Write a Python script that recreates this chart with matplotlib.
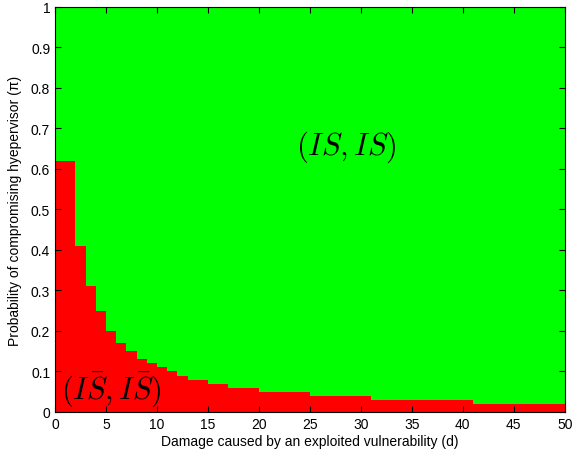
import numpy as np
import matplotlib
matplotlib.use("Agg")
import matplotlib.pyplot as plt
from matplotlib.colors import ListedColormap

# threshold pi* per damage column (d from 0 to 50, unit wide columns)
d_edges = list(range(0, 51))
threshold = [0.62, 0.62, 0.41, 0.31, 0.25, 0.20, 0.17, 0.15, 0.13, 0.12,
             0.11, 0.10, 0.09, 0.08, 0.08, 0.07, 0.07, 0.06, 0.06, 0.06,
             0.05, 0.05, 0.05, 0.05, 0.05, 0.04, 0.04, 0.04, 0.04, 0.04,
             0.04, 0.03, 0.03, 0.03, 0.03, 0.03, 0.03, 0.03, 0.03, 0.03,
             0.03, 0.02, 0.02, 0.02, 0.02, 0.02, 0.02, 0.02, 0.02, 0.02]
pi_edges = np.round(np.arange(0, 1.0001, 0.01), 2)

xticks = list(range(0, 51, 5))
yticks = [0, 0.1, 0.2, 0.3, 0.4, 0.5, 0.6, 0.7, 0.8, 0.9, 1]
yticklabels = ['0', '0.1', '0.2', '0.3', '0.4', '0.5', '0.6', '0.7', '0.8', '0.9', '1']

plt.rcParams['font.family'] = ['Liberation Sans', 'DejaVu Sans']
plt.rcParams['mathtext.fontset'] = 'cm'

# 1 = attack region (green), 0 = red region below threshold
pi_mid = (pi_edges[:-1] + pi_edges[1:]) / 2
Z = np.array([[0 if p < t else 1 for t in threshold] for p in pi_mid])

fig = plt.figure(figsize=(5.74, 4.56), dpi=100)
ax = fig.add_axes([0.0958, 0.0943, 0.8882, 0.8882])
ax.pcolormesh(d_edges, pi_edges, Z, cmap=ListedColormap(['#ff0000', '#00ff00']),
              vmin=0, vmax=1, shading='flat')

ax.text(28.6, 0.655, r'$(IS,IS)$', fontsize=22, ha='center', va='center')
ax.text(5.5, 0.057, r'$(I\bar{S},I\bar{S})$', fontsize=22, ha='center', va='center')

ax.set_xlim(0, 50)
ax.set_ylim(0, 1)
ax.set_xticks(xticks)
ax.set_yticks(yticks)
ax.set_yticklabels(yticklabels)
ax.tick_params(direction='in', top=True, right=True, labelsize=10, length=4)
ax.set_xlabel('Damage caused by an exploited vulnerability (d)', fontsize=10, labelpad=2)
ax.set_ylabel('Probability of compromising hyepervisor (\u03c0)', fontsize=10, labelpad=6)

fig.savefig('out.png', dpi=100)
